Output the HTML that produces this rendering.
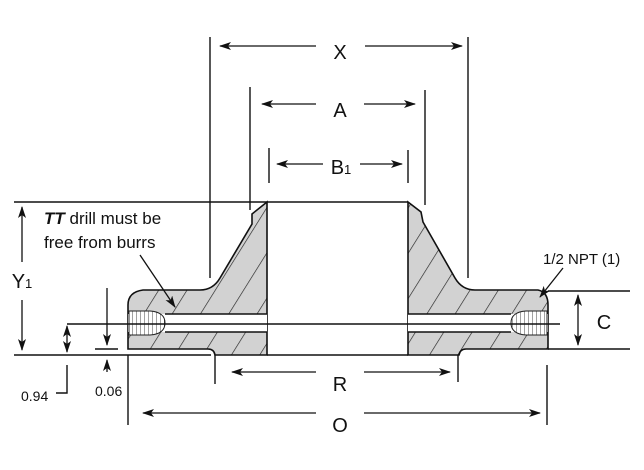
<!DOCTYPE html>
<html><head><style>body{margin:0;background:#fff}svg{display:block}text{font-family:"Liberation Sans",sans-serif;fill:#111}</style></head><body>
<svg width="644" height="470" viewBox="0 0 644 470" xmlns="http://www.w3.org/2000/svg">
<defs>
<marker id="a" markerWidth="12" markerHeight="8" refX="11" refY="4" orient="auto-start-reverse" markerUnits="userSpaceOnUse"><path d="M0,0 L12,4 L0,8 L3,4Z" fill="#111"/></marker>
<pattern id="h" width="24" height="24" patternUnits="userSpaceOnUse" patternTransform="rotate(32)"><rect width="24" height="24" fill="#d2d2d2"/><line x1="0" y1="0" x2="0" y2="24" stroke="#222" stroke-width="1.3"/></pattern>
<pattern id="v" width="4" height="4" patternUnits="userSpaceOnUse"><rect width="4" height="4" fill="#fff"/><line x1="0" y1="0" x2="0" y2="4" stroke="#444" stroke-width="1"/></pattern>
</defs>
<g stroke="#111" stroke-width="1.6" fill="none">
<path d="M267,202 L252,214 L252,224 L220,278 Q213,290 200,290 L143,290 Q128,292 128,305 L128,349 L208,349 Q214,349 215,355 L267,355 Z" fill="url(#h)"/>
<path d="M408,202 L421,212 L423,222 L455,278 Q462,290 475,290 L538,290 Q548,292 548,305 L548,349 L466,349 Q460,349 459,355 L408,355 Z" fill="url(#h)"/>
</g>
<rect x="128" y="314" width="139" height="18" fill="#fff"/>
<rect x="408" y="314" width="140" height="18" fill="#fff"/>
<path d="M129,311 L150,311 Q165,312 165,323 Q165,334 150,335 L129,335Z" fill="url(#v)" stroke="#222" stroke-width="1"/>
<path d="M547,311 L526,311 Q511,312 511,323 Q511,334 526,335 L547,335Z" fill="url(#v)" stroke="#222" stroke-width="1"/>
<g stroke="#111" stroke-width="1.4" fill="none">
<line x1="165" y1="314" x2="267" y2="314"/><line x1="165" y1="332" x2="267" y2="332"/>
<line x1="408" y1="314" x2="511" y2="314"/><line x1="408" y1="332" x2="511" y2="332"/>
<line x1="67" y1="324" x2="560" y2="324"/>
<line x1="14" y1="202" x2="408" y2="202"/>
<line x1="14" y1="355" x2="211" y2="355"/>
<line x1="215" y1="355" x2="215" y2="384"/>
<line x1="267" y1="355" x2="408" y2="355"/>
<line x1="458" y1="355" x2="458" y2="382"/>
<line x1="128" y1="355" x2="128" y2="425"/>
<line x1="547" y1="365" x2="547" y2="425"/>
<line x1="210" y1="37" x2="210" y2="278"/><line x1="468" y1="37" x2="468" y2="278"/>
<line x1="250" y1="87" x2="250" y2="210"/><line x1="425" y1="90" x2="425" y2="205"/>
<line x1="269" y1="148" x2="269" y2="183"/><line x1="408" y1="150" x2="408" y2="183"/>
<line x1="548" y1="291" x2="630" y2="291"/><line x1="548" y1="349" x2="630" y2="349"/>
<line x1="95" y1="349" x2="118" y2="349"/>
<path d="M67,365 L67,393 L56,393"/>
</g>
<g stroke="#111" stroke-width="1.3" fill="none" marker-end="url(#a)">
<line x1="316" y1="46" x2="220" y2="46"/><line x1="365" y1="46" x2="462" y2="46"/>
<line x1="316" y1="104" x2="262" y2="104"/><line x1="364" y1="104" x2="415" y2="104"/>
<line x1="323" y1="164" x2="277" y2="164"/><line x1="360" y1="164" x2="402" y2="164"/>
<line x1="316" y1="372" x2="232" y2="372"/><line x1="364" y1="372" x2="450" y2="372"/>
<line x1="316" y1="413" x2="143" y2="413"/><line x1="364" y1="413" x2="540" y2="413"/>
<line x1="22" y1="262" x2="22" y2="207"/><line x1="22" y1="300" x2="22" y2="350"/>
<line x1="578" y1="318" x2="578" y2="295"/><line x1="578" y1="318" x2="578" y2="345"/>
<line x1="67" y1="338" x2="67" y2="326"/><line x1="67" y1="338" x2="67" y2="352"/>
<line x1="107" y1="288" x2="107" y2="345"/>
<line x1="107" y1="372" x2="107" y2="360"/>
<line x1="140" y1="255" x2="175" y2="307"/>
<line x1="563" y1="268" x2="540" y2="297"/>
</g>
<text x="340" y="59" font-size="20" text-anchor="middle">X</text>
<text x="340" y="117" font-size="20" text-anchor="middle">A</text>
<text x="341" y="174" font-size="20" text-anchor="middle">B<tspan font-size="13">1</tspan></text>
<text x="340" y="391" font-size="20" text-anchor="middle">R</text>
<text x="340" y="432" font-size="20" text-anchor="middle">O</text>
<text x="22" y="288" font-size="20" text-anchor="middle">Y<tspan font-size="13">1</tspan></text>
<text x="604" y="329" font-size="20" text-anchor="middle">C</text>
<text x="44" y="224" font-size="17"><tspan font-weight="bold" font-style="italic">TT</tspan> drill must be</text>
<text x="44" y="248" font-size="17">free from burrs</text>
<text x="543" y="264" font-size="15">1/2 NPT (1)</text>
<text x="21" y="401" font-size="14">0.94</text>
<text x="95" y="396" font-size="14">0.06</text>
</svg>
</body></html>
